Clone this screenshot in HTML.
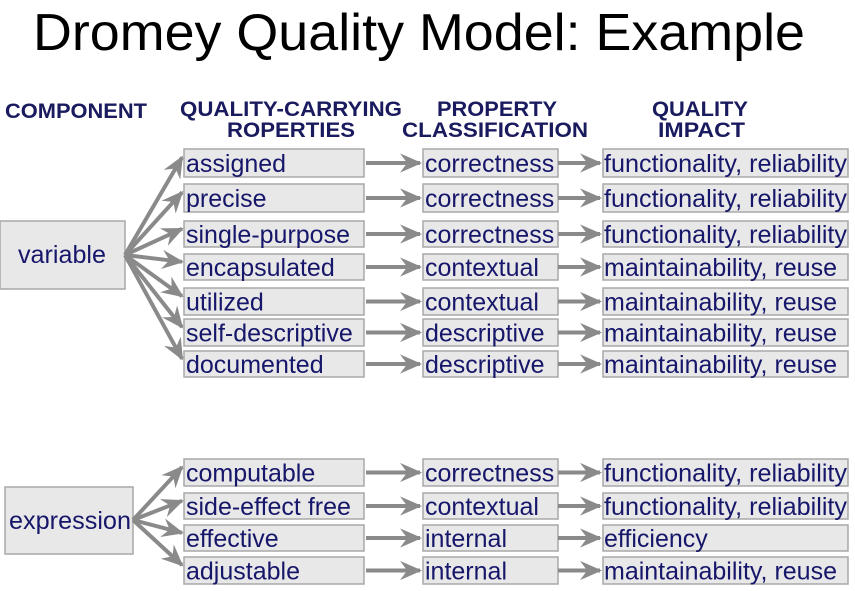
<!DOCTYPE html>
<html><head><meta charset="utf-8"><style>
html,body{margin:0;padding:0;background:#fff;}
svg{display:block;}
.t{font-family:"Liberation Sans",Arial,sans-serif;font-size:25px;fill:#16166a;}
.h{font-family:"Liberation Sans",Arial,sans-serif;font-size:21px;font-weight:bold;fill:#1a1a5e;}
.b{fill:#e8e8e8;stroke:#a8a8a8;stroke-width:1.5;}
.a{stroke:#8a8a8a;stroke-width:4;fill:none;}
</style></head><body>
<svg width="855" height="591" viewBox="0 0 855 591">
<defs><marker id="m" markerWidth="6" markerHeight="6" refX="5" refY="3" orient="auto" markerUnits="strokeWidth"><path d="M0,0.6 L5.5,3 L0,5.4 L1.8,3 Z" fill="#8a8a8a"/></marker></defs>
<text x="33" y="50" font-family="Liberation Sans, Arial, sans-serif" font-size="52" fill="#000" textLength="772" lengthAdjust="spacingAndGlyphs">Dromey Quality Model: Example</text>
<text class="h" x="5" y="118" textLength="142" lengthAdjust="spacingAndGlyphs">COMPONENT</text>
<text class="h" x="180" y="116" textLength="222" lengthAdjust="spacingAndGlyphs">QUALITY-CARRYING</text>
<text class="h" x="227" y="137" textLength="128" lengthAdjust="spacingAndGlyphs">ROPERTIES</text>
<text class="h" x="437" y="116" textLength="120" lengthAdjust="spacingAndGlyphs">PROPERTY</text>
<text class="h" x="402" y="137" textLength="186" lengthAdjust="spacingAndGlyphs">CLASSIFICATION</text>
<text class="h" x="652" y="116" textLength="96" lengthAdjust="spacingAndGlyphs">QUALITY</text>
<text class="h" x="658" y="137" textLength="87" lengthAdjust="spacingAndGlyphs">IMPACT</text>

<rect class="b" x="0" y="221" width="125" height="68"/>
<text class="t" x="18" y="263" textLength="88" lengthAdjust="spacingAndGlyphs">variable</text>
<rect class="b" x="5" y="487" width="128" height="67"/>
<text class="t" x="9" y="529" textLength="122" lengthAdjust="spacingAndGlyphs">expression</text>

<g id="rows"></g>
</svg>
<script>
var rows=[
[149,177,"assigned","correctness","functionality, reliability",0],
[184,212,"precise","correctness","functionality, reliability",0],
[221,247,"single-purpose","correctness","functionality, reliability",0],
[254,280,"encapsulated","contextual","maintainability, reuse",0],
[288,315,"utilized","contextual","maintainability, reuse",0],
[319,346,"self-descriptive","descriptive","maintainability, reuse",0],
[351,377,"documented","descriptive","maintainability, reuse",0],
[459,486,"computable","correctness","functionality, reliability",1],
[493,519,"side-effect free","contextual","functionality, reliability",1],
[525,551,"effective","internal","efficiency",1],
[557,584,"adjustable","internal","maintainability, reuse",1]];
var g=document.getElementById("rows"),h="";
rows.forEach(function(r){
 var y0=r[0],y1=r[1],my=(y0+y1)/2,ty=my+9;
 var ox=r[5]?133:125,oy=r[5]?520:255;
 h+='<line class="a" x1="'+ox+'" y1="'+oy+'" x2="182" y2="'+(y0+(y1-y0)*0.3)+'" marker-end="url(#m)"/>';
 h+='<rect class="b" x="184" y="'+y0+'" width="180" height="'+(y1-y0)+'"/>';
 h+='<rect class="b" x="423" y="'+y0+'" width="135" height="'+(y1-y0)+'"/>';
 h+='<rect class="b" x="603" y="'+y0+'" width="245" height="'+(y1-y0)+'"/>';
 h+='<line class="a" x1="366" y1="'+my+'" x2="420" y2="'+my+'" marker-end="url(#m)"/>';
 h+='<line class="a" x1="558" y1="'+my+'" x2="600" y2="'+my+'" marker-end="url(#m)"/>';
 h+='<text class="t" x="186" y="'+ty+'">'+r[2]+'</text>';
 h+='<text class="t" x="425" y="'+ty+'">'+r[3]+'</text>';
 var tl=r[4]=="functionality, reliability"?' textLength="243" lengthAdjust="spacingAndGlyphs"':'';
 h+='<text class="t" x="604" y="'+ty+'"'+tl+'>'+r[4]+'</text>';
});
g.innerHTML=h;
</script>
</body></html>
